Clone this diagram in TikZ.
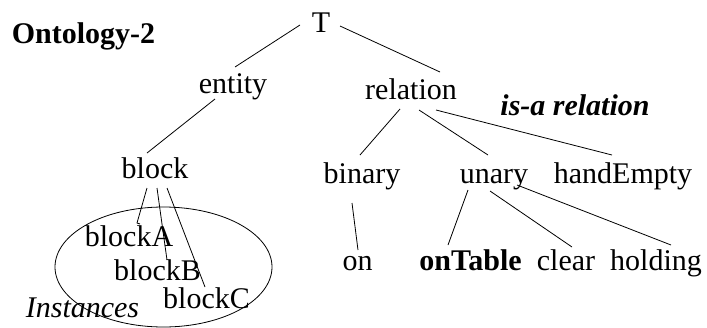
\documentclass[tikz,border=0pt]{standalone}
\usepackage{fontspec}
\setmainfont{Liberation Serif}
\begin{document}
\begin{tikzpicture}[x=1pt,y=-1pt,
  lbl/.style={inner sep=0pt,anchor=base,font=\fontsize{30}{36}\selectfont},
  edge/.style={draw=black,line width=0.8pt}]
\useasboundingbox (0,0) rectangle (707,327);
% text nodes
\node[lbl,font=\fontsize{30}{36}\selectfont\bfseries] (title) at (83.5,43) {Ontology-2};
\node[lbl] (T) at (321,32) {T};
\node[lbl] (entity) at (233,93) {entity};
\node[lbl] (relation) at (411,99) {relation};
\node[lbl,font=\fontsize{30}{36}\selectfont\bfseries\itshape] (isa) at (575,115) {is-a relation};
\node[lbl] (block) at (155,178) {block};
\node[lbl] (binary) at (362,183) {binary};
\node[lbl] (unary) at (494,183) {unary};
\node[lbl] (handEmpty) at (623,183) {handEmpty};
\node[lbl] (blockA) at (129,246) {blockA};
\node[lbl] (blockB) at (157.5,280) {blockB};
\node[lbl] (blockC) at (206.5,308) {blockC};
\node[lbl,font=\fontsize{30}{36}\selectfont\itshape] (inst) at (82.5,317) {Instances};
\node[lbl] (on) at (357.5,270) {on};
\node[lbl,font=\fontsize{30}{36}\selectfont\bfseries] (onTable) at (470.5,270) {onTable};
\node[lbl] (clear) at (566,270) {clear};
\node[lbl] (holding) at (656,270) {holding};
% ellipse
\draw[edge] (163.5,267) ellipse [x radius=108.5,y radius=60];
% connector end points
\coordinate (T-e) at (300,25);   \coordinate (e-T) at (235,67);
\coordinate (T-r) at (340,26);   \coordinate (r-T) at (440,72);
\coordinate (e-b) at (215,99);   \coordinate (b-e) at (147,153);
\coordinate (r-bi) at (400,109); \coordinate (bi-r) at (360,155);
\coordinate (r-u) at (419,110);  \coordinate (u-r) at (488,155);
\coordinate (r-h) at (436,110);  \coordinate (h-r) at (612,155);
\coordinate (b-A) at (147,188);  \coordinate (A-b) at (137,223);
\coordinate (b-B) at (157,188);  \coordinate (B-b) at (167,260);
\coordinate (b-C) at (167,188);  \coordinate (C-b) at (205,287);
\coordinate (bi-o) at (352,203); \coordinate (o-bi) at (358,250);
\coordinate (u-oT) at (468,190); \coordinate (oT-u) at (448,245);
\coordinate (u-c) at (490,191);  \coordinate (c-u) at (572,247);
\coordinate (u-h) at (517,185);  \coordinate (h-u) at (671,245);
% connectors
\draw[edge] (T-e) -- (e-T);
\draw[edge] (T-r) -- (r-T);
\draw[edge] (e-b) -- (b-e);
\draw[edge] (r-bi) -- (bi-r);
\draw[edge] (r-u) -- (u-r);
\draw[edge] (r-h) -- (h-r);
\draw[edge] (b-A) -- (A-b) -- ++(3,1);
\draw[edge] (b-B) -- (B-b);
\draw[edge] (b-C) -- (C-b);
\draw[edge] (bi-o) -- (o-bi);
\draw[edge] (u-oT) -- (oT-u);
\draw[edge] (u-c) -- (c-u);
\draw[edge] (u-h) -- (h-u);
\end{tikzpicture}
\end{document}
